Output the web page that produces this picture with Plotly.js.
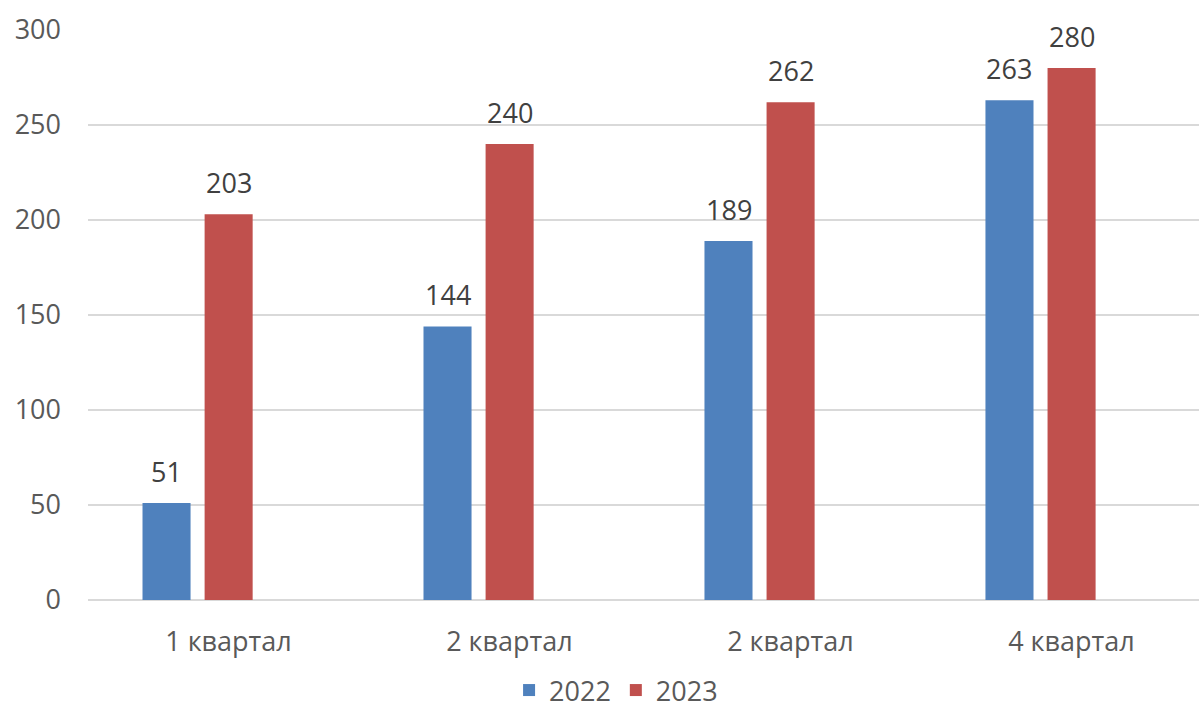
<!DOCTYPE html>
<html>
<head>
<meta charset="utf-8">
<script src="https://cdn.plot.ly/plotly-3.0.1.min.js"></script>
<style>html,body{margin:0;padding:0;background:#fff;}#chart{width:1199px;height:715px;}</style>
</head>
<body>
<div id="chart"></div>
<script>
const categories = ["1 квартал", "2 квартал", "2 квартал", "4 квартал"];
const series2022 = [51, 144, 189, 263];
const series2023 = [203, 240, 262, 280];
const seriesNames = ["2022", "2023"];
const yTicks = [0, 50, 100, 150, 200, 250, 300];

const xIdx = categories.map((_, i) => i);
const font = "Open Sans, sans-serif";
const barWidth = 0.171;
const offsets = [-0.306, -0.085];
const colors = ["#4F81BD", "#C0504D"];
const allSeries = [series2022, series2023];

const traces = allSeries.map((vals, s) => ({
  type: "bar", name: seriesNames[s], x: xIdx, y: vals,
  width: barWidth, offset: offsets[s],
  marker: {color: colors[s]},
  hoverinfo: "skip"
}));

const annotations = [];
allSeries.forEach((vals, s) => {
  vals.forEach((v, i) => {
    annotations.push({
      x: xIdx[i] + offsets[s] + barWidth / 2, y: v,
      xref: "x", yref: "y",
      text: String(v), showarrow: false,
      xanchor: "center", yanchor: "bottom", yshift: 11,
      font: {family: font, size: 27, color: "#404040"}
    });
  });
});

const layout = {
  width: 1199, height: 715,
  margin: {l: 88, r: 0, t: 30, b: 114},
  paper_bgcolor: "#fff", plot_bgcolor: "#fff",
  barmode: "overlay",
  showlegend: true,
  font: {family: font, size: 27, color: "#595959"},
  annotations: annotations,
  xaxis: {
    range: [-0.5, 3.454],
    tickmode: "array", tickvals: xIdx, ticktext: categories,
    showgrid: false, zeroline: false, showline: false,
    ticks: "", ticklabelstandoff: 23,
    tickfont: {family: font, size: 27, color: "#595959"},
    fixedrange: true
  },
  yaxis: {
    range: [0, 300],
    tickmode: "array", tickvals: yTicks,
    showgrid: true, gridcolor: "#d9d9d9", gridwidth: 1.5,
    zeroline: true, zerolinecolor: "#d9d9d9", zerolinewidth: 1.5,
    showline: false, ticks: "", ticklabelstandoff: 26,
    tickfont: {family: font, size: 27, color: "#595959"},
    fixedrange: true
  },
  legend: {
    orientation: "h", x: 0.379, xanchor: "left", y: -0.115, yanchor: "top",
    font: {family: font, size: 27, color: "#595959"},
    itemwidth: 30, tracegroupgap: 0
  }
};

Plotly.newPlot("chart", traces, layout, {displayModeBar: false, staticPlot: true});
</script>
</body>
</html>
